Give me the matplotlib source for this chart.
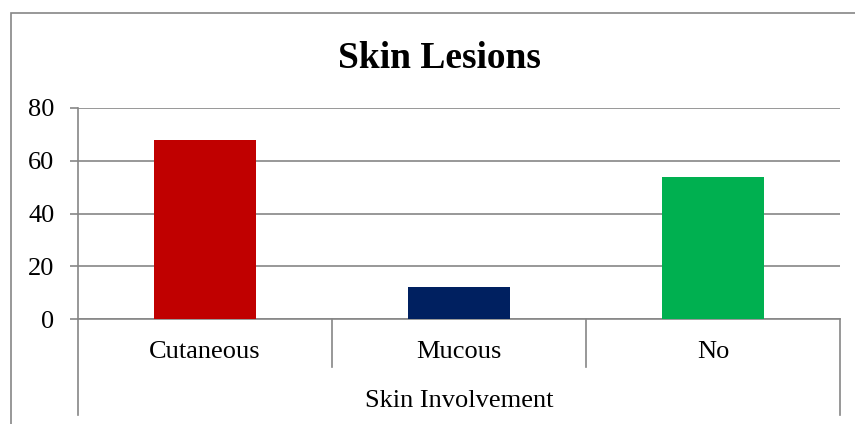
import matplotlib.pyplot as plt
from matplotlib.patches import Rectangle

plt.rcParams['font.family'] = ['Liberation Serif', 'DejaVu Serif']

categories = ["Cutaneous", "Mucous", "No"]
values = [68, 12, 54]
colors = ["#C00000", "#002060", "#00B050"]
group_label = "Skin Involvement"
title = "Skin Lesions"
yticks = [0, 20, 40, 60, 80]

GRAY = "#868686"
W, H = 855, 424

fig = plt.figure(figsize=(W / 100, H / 100), dpi=100)

# outer chart frame, runs off the right and bottom of the picture
fig.patches.append(Rectangle((11 / W, -0.2), 1.2, (H - 13) / H + 0.2,
                             transform=fig.transFigure, fill=False,
                             edgecolor=GRAY, linewidth=1.2, clip_on=False))

left, right, top, bottom = 78, 840, 108, 319
ax = fig.add_axes([left / W, (H - bottom) / H, (right - left) / W, (bottom - top) / H])

x = list(range(len(categories)))
ax.bar(x, values, width=0.4, color=colors, zorder=3)

ax.set_xlim(-0.5, len(categories) - 0.5)
ax.set_ylim(0, 80)
ax.set_yticks(yticks)
ax.tick_params(axis='y', labelsize=19, length=6, width=1.2, color=GRAY, pad=11)
ax.set_xticks([])
ax.yaxis.grid(True, color=GRAY, linewidth=1.2, zorder=0)
ax.set_axisbelow(True)

for s in ["top", "right"]:
    ax.spines[s].set_visible(False)
for s in ["left", "bottom"]:
    ax.spines[s].set_color(GRAY)
    ax.spines[s].set_linewidth(1.2)

# multi-level category axis separators
trans = ax.get_xaxis_transform()
ph = bottom - top
inner = -(367 - bottom) / ph
outer = -(415 - bottom) / ph
bounds = [i - 0.5 for i in range(len(categories) + 1)]
for i, b in enumerate(bounds):
    low = outer if i in (0, len(bounds) - 1) else inner
    ax.plot([b, b], [0, low], transform=trans, color=GRAY, linewidth=1.2, clip_on=False)

for xi, lab in zip(x, categories):
    ax.text(xi, -(352 - bottom) / ph, lab, transform=trans, ha='center', va='center', fontsize=19)

ax.text(0.5, -(401 - bottom) / ph, group_label, transform=ax.transAxes,
        ha='center', va='center', fontsize=19)

fig.text(439 / W, (H - 68) / H, title, ha='center', va='baseline',
         fontsize=27, fontweight='bold')

fig.savefig("out.png", dpi=100)
